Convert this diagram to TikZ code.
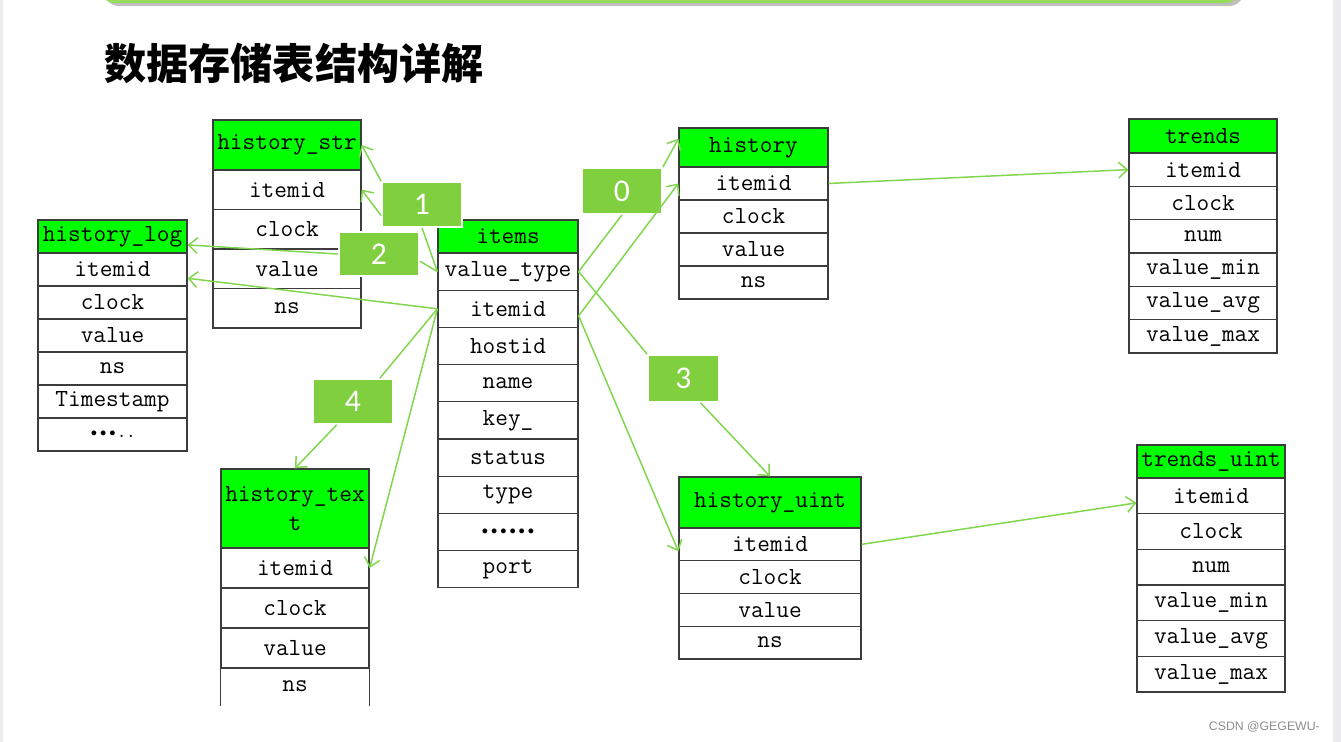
\documentclass[tikz,border=0pt]{standalone}
\usepackage{fontspec}
\usetikzlibrary{arrows.meta}
\newfontfamily\cjkfont{Noto Sans CJK SC}
\newfontfamily\tagfont{Carlito}
\newfontfamily\markfont{Liberation Sans}
\newcommand{\pxu}{0.02cm}
\definecolor{hdrgreen}{RGB}{0,255,0}
\definecolor{taggreen}{RGB}{127,207,63}
\definecolor{linkgreen}{RGB}{128,214,78}
\definecolor{gridgray}{RGB}{60,60,60}
\definecolor{bargreen}{RGB}{150,222,90}
\definecolor{edgegray}{RGB}{235,235,240}
\begin{document}
\begin{tikzpicture}[x=0.02cm, y=-0.02cm,
    cell/.style={draw=gridgray, line width=0.7pt, inner sep=0pt,
      font=\fontsize{14}{17}\selectfont\ttfamily},
    hdr/.style={cell, fill=hdrgreen},
    tagbox/.style={fill=taggreen, draw=white, line width=1pt, text=white,
      inner sep=0pt, font=\fontsize{18}{20}\selectfont\tagfont},
    link/.style={draw=linkgreen, line width=0.85pt},
    >={Straight Barb[length=5pt,width=9pt]}]
    \useasboundingbox (0,0) rectangle (1341,742);
    % page frame
    \fill[edgegray] (0,0) rectangle (3,742);
    \fill[edgegray] (1333,0) rectangle (1341,742);
    \fill[black!25, rounded corners=0.3cm] (104,-40) rectangle (1244,6);
    \fill[bargreen, rounded corners=0.3cm] (100,-40) rectangle (1240,3);
    \node[anchor=west, font=\cjkfont\bfseries\fontsize{24}{28}\selectfont] (title) at (98,63) {数据存储表结构详解};
    % history_str
    \node[hdr, minimum width=148*\pxu, minimum height=50*\pxu] (hs-0) at (287,145) {history\_str};
    \foreach \f [count=\i] in {itemid,clock,value,ns}
        \node[cell, minimum width=148*\pxu, minimum height=39.5*\pxu] (hs-\i) at (287,150.25+39.5*\i) {\f};
    % history_log
    \node[hdr, minimum width=149*\pxu, minimum height=33*\pxu] (hl-0) at (112.5,236.5) {history\_log};
    \foreach \f [count=\i] in {itemid,clock,value,ns,Timestamp,{\fontsize{10}{12}\selectfont\textbullet\textbullet\textbullet..}}
        \node[cell, minimum width=149*\pxu, minimum height=33*\pxu] (hl-\i) at (112.5,236.5+33*\i) {\f};
    % items
    \node[hdr, minimum width=140*\pxu, minimum height=33*\pxu] (it-0) at (508,236.5) {items};
    \foreach \f [count=\i] in {value\_type,itemid,hostid,name,key\_,status,type,{\fontsize{10}{12}\selectfont\textbullet\textbullet\textbullet\textbullet\textbullet\textbullet},port}
        \node[cell, minimum width=140*\pxu, minimum height=37.2*\pxu] (it-\i) at (508,234.4+37.2*\i) {\f};
    % history
    \node[hdr, minimum width=149*\pxu, minimum height=39*\pxu] (hi-0) at (753.5,147.5) {history};
    \foreach \f [count=\i] in {itemid,clock,value,ns}
        \node[cell, minimum width=149*\pxu, minimum height=33*\pxu] (hi-\i) at (753.5,150.5+33*\i) {\f};
    % trends
    \node[hdr, minimum width=148*\pxu, minimum height=34*\pxu] (tr-0) at (1203,136) {trends};
    \foreach \f [count=\i] in {itemid,clock,num,value\_min,value\_avg,value\_max}
        \node[cell, minimum width=148*\pxu, minimum height=33.33*\pxu] (tr-\i) at (1203,136.33+33.33*\i) {\f};
    % history_uint
    \node[hdr, minimum width=182*\pxu, minimum height=51*\pxu] (hu-0) at (770,502.5) {history\_uint};
    \foreach \f [count=\i] in {itemid,clock,value,ns}
        \node[cell, minimum width=182*\pxu, minimum height=32.75*\pxu] (hu-\i) at (770,511.6+32.75*\i) {\f};
    % trends_uint
    \node[hdr, minimum width=148*\pxu, minimum height=33*\pxu] (tu-0) at (1211,461.5) {trends\_uint};
    \foreach \f [count=\i] in {itemid,clock,num,value\_min,value\_avg,value\_max}
        \node[cell, minimum width=148*\pxu, minimum height=35.67*\pxu] (tu-\i) at (1211,460.2+35.67*\i) {\f};
    % history_text (cut off at the bottom)
    \node[hdr, align=center, minimum width=148*\pxu, minimum height=79*\pxu] (ht-0) at (295,508.5) {history\_tex\\t};
    \foreach \f [count=\i] in {itemid,clock,value}
        \node[cell, minimum width=148*\pxu, minimum height=40*\pxu] (ht-\i) at (295,528+40*\i) {\f};
    \node[cell, draw=none, minimum width=148*\pxu, minimum height=37*\pxu] (ht-4) at (295,686.5) {ns};
    \draw[gridgray, line width=0.7pt] (ht-4.south west) -- (ht-4.north west) -- (ht-4.north east) -- (ht-4.south east);
    % value_type tags
    \node[tagbox, minimum width=80*\pxu, minimum height=46*\pxu] (t0) at (622,191) {0};
    \node[tagbox, minimum width=80*\pxu, minimum height=45*\pxu] (t1) at (422,204.5) {1};
    \node[tagbox, minimum width=80*\pxu, minimum height=44*\pxu] (t2) at (379,254) {2};
    \node[tagbox, minimum width=71*\pxu, minimum height=47*\pxu] (t3) at (683.5,378.5) {3};
    \node[tagbox, minimum width=80*\pxu, minimum height=45*\pxu] (t4) at (353,401.5) {4};
    % links
    \draw [link] (it-1.west) -- (t1.south);
    \draw [link] (it-1.west) -- (t2.-10);
    \draw [link,->] (t1.north west) -- (hs-0.east);
    \draw [link,->] (t1.195) -- (hs-1.east);
    \draw [link,->] (t2.west) -- ([yshift=-4.8pt]hl-0.east);
    \draw [link,->] (it-2.west) -- ([yshift=-5pt]hl-1.east);
    \draw [link] (it-2.west) -- (t4.41);
    \draw [link,->] (it-2.west) -- (ht-1.east);
    \draw [link,->] (t4.235) -- (ht-0.north);
    \draw [link] (it-1.east) -- (t0.south);
    \draw [link,->] (t0.north east) -- ([yshift=5pt]hi-0.west);
    \draw [link,->] ([yshift=-4pt]it-2.east) -- (hi-1.west);
    \draw [link,->] ([yshift=-4pt]it-2.east) -- ([yshift=-4pt]hu-1.west);
    \draw [link] (it-1.east) -- (t3.north west);
    \draw [link,->] (t3.-55) -- (hu-0.north);
    \draw [link,->] (hi-1.east) -- (tr-1.west);
    \draw [link,->] (hu-1.east) -- ([yshift=-4pt]tu-1.west);
    \node[anchor=east, text=black!45, font=\markfont\fontsize{7}{8}\selectfont] (mark) at (1326,727) {CSDN @GEGEWU-};
\end{tikzpicture}
\end{document}
